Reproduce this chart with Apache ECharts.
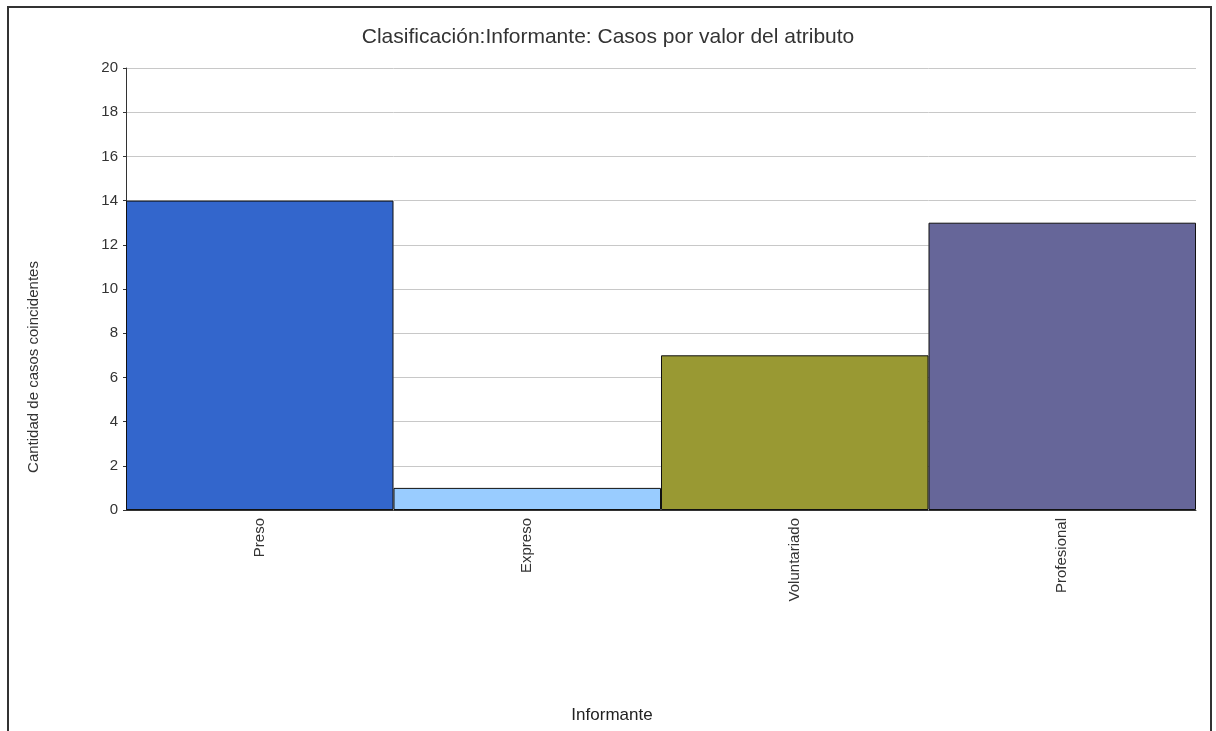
<!DOCTYPE html>
<html>
<head>
<meta charset="utf-8">
<script src="https://cdn.jsdelivr.net/npm/echarts@6/dist/echarts.min.js"></script>
<style>
html,body{margin:0;padding:0;background:#fff;}
#chart{width:1216px;height:731px;}
</style>
</head>
<body>
<div id="chart"></div>
<script>
const categories = ['Preso', 'Expreso', 'Voluntariado', 'Profesional'];
const values = [14, 1, 7, 13];
const barColors = ['#3366CC', '#99CCFF', '#999933', '#666699'];
const titleText = 'Clasificación:Informante: Casos por valor del atributo';
const xName = 'Informante';
const yName = 'Cantidad de casos coincidentes';

const chart = echarts.init(document.getElementById('chart'), null, {renderer: 'canvas'});
const font = 'Arial, "Liberation Sans", sans-serif';
chart.setOption({
  backgroundColor: '#fff',
  animation: false,
  graphic: [{
    type: 'rect',
    shape: {x: 8, y: 7, width: 1203, height: 740},
    style: {fill: 'none', stroke: '#333', lineWidth: 2},
    silent: true
  }],
  title: {
    text: titleText,
    left: 'center',
    top: 22,
    textStyle: {fontFamily: font, fontSize: 21, fontWeight: 'normal', color: '#333'}
  },
  grid: {left: 126, right: 20, top: 68, bottom: 221, containLabel: false},
  xAxis: {
    type: 'category',
    data: categories,
    name: xName,
    nameLocation: 'middle',
    nameGap: 197,
    nameTextStyle: {fontFamily: font, fontSize: 17, color: '#222', padding: [0, 98, 0, 0]},
    axisLine: {show: true, lineStyle: {color: '#333', width: 1}},
    axisTick: {show: false},
    axisLabel: {rotate: 90, fontFamily: font, fontSize: 15, color: '#333', margin: 8, interval: 0}
  },
  yAxis: {
    type: 'value',
    min: 0,
    max: 20,
    interval: 2,
    name: yName,
    nameLocation: 'middle',
    nameRotate: 90,
    nameGap: 85,
    nameTextStyle: {fontFamily: font, fontSize: 15, color: '#333', padding: [0, 156, 0, 0]},
    axisLine: {show: true, lineStyle: {color: '#333', width: 1}},
    axisTick: {show: true, length: 3, lineStyle: {color: '#333'}},
    axisLabel: {fontFamily: font, fontSize: 15, color: '#333', margin: 8},
    splitLine: {show: true, lineStyle: {color: '#c8c8c8', width: 1}}
  },
  series: [{
    type: 'bar',
    data: values.map((v, i) => ({value: v, itemStyle: {color: barColors[i]}})),
    barWidth: '100%',
    barCategoryGap: '0%',
    itemStyle: {borderColor: '#111', borderWidth: 1}
  }]
});
</script>
</body>
</html>
